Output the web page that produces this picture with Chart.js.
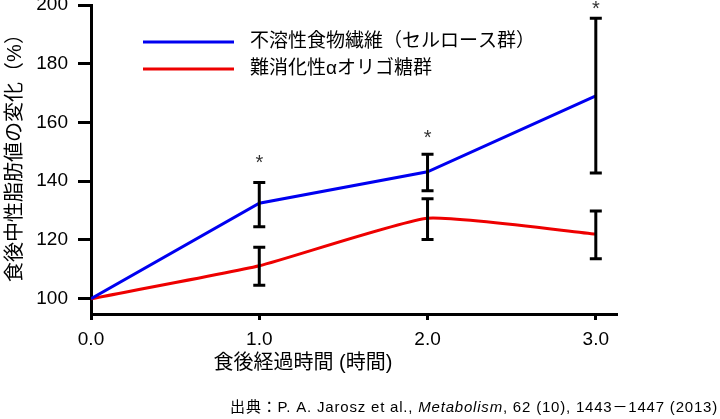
<!DOCTYPE html>
<html>
<head>
<meta charset="utf-8">
<script src="https://cdn.jsdelivr.net/npm/chart.js@4"></script>
<style>
  html, body { margin: 0; padding: 0; background: #fff; }
  #wrap { width: 720px; height: 419px; position: relative; }
</style>
</head>
<body>
<div id="wrap"><canvas id="c" width="720" height="419"></canvas></div>
<script>
// hours after meal
const hours = [0, 1, 2, 3];

// 不溶性食物繊維（セルロース群）
const celluloseMean = [100, 132.5, 143.2, 169.1];
const celluloseHigh = [null, 139.6, 149.2, 195.5];
const celluloseLow  = [null, 124.5, 136.8, 142.8];

// 難消化性αオリゴ糖群
const oligoMean = [100, 111.2, 127.4, 122.0];
const oligoHigh = [null, 117.5, 134.0, 129.9];
const oligoLow  = [null, 104.6, 120.2, 113.6];

// significance marks (over the cellulose series)
const starHours = [1, 2, 3];
const starAt = [147, 155.5, 199.5];

const seriesNames = ['不溶性食物繊維（セルロース群）', '難消化性αオリゴ糖群'];
const yTicks = [100, 120, 140, 160, 180, 200];

const FONT = "'Liberation Sans', Arial, 'Noto Sans CJK JP', sans-serif";
const BLUE = '#0000f0';
const RED = '#ee0000';

function pts(ys) {
  return hours.map((h, i) => ({ x: h, y: ys[i] }));
}

const extras = {
  id: 'extras',
  afterDatasetsDraw(chart) {
    const ctx = chart.ctx;
    const xs = chart.scales.x, ys = chart.scales.y;
    ctx.save();
    // error bars
    ctx.strokeStyle = '#000';
    ctx.lineWidth = 3;
    ctx.lineCap = 'butt';
    const bars = (hi, lo) => {
      hours.forEach((h, i) => {
        if (hi[i] == null) return;
        const px = xs.getPixelForValue(h);
        const top = ys.getPixelForValue(hi[i]);
        const bot = ys.getPixelForValue(lo[i]);
        ctx.beginPath();
        ctx.moveTo(px, top); ctx.lineTo(px, bot);
        ctx.moveTo(px - 6, top); ctx.lineTo(px + 6, top);
        ctx.moveTo(px - 6, bot); ctx.lineTo(px + 6, bot);
        ctx.stroke();
      });
    };
    bars(celluloseHigh, celluloseLow);
    bars(oligoHigh, oligoLow);

    // asterisks
    ctx.fillStyle = '#333';
    ctx.font = '20px ' + FONT;
    ctx.textAlign = 'center';
    ctx.textBaseline = 'middle';
    starHours.forEach((h, i) => {
      ctx.fillText('*', xs.getPixelForValue(h), ys.getPixelForValue(starAt[i]) + 3);
    });

    // legend
    ctx.lineWidth = 3;
    [BLUE, RED].forEach((col, i) => {
      const y = 42 + i * 27;
      ctx.strokeStyle = col;
      ctx.beginPath();
      ctx.moveTo(143, y); ctx.lineTo(234, y);
      ctx.stroke();
      ctx.fillStyle = '#000';
      ctx.font = '19px ' + FONT;
      ctx.textAlign = 'left';
      ctx.fillText(seriesNames[i], 250, y);
    });

    // axis titles
    ctx.fillStyle = '#000';
    ctx.font = '20px ' + FONT;
    ctx.textAlign = 'center';
    ctx.fillText('食後経過時間 (時間)', 303, 363);
    ctx.save();
    ctx.translate(15, 153);
    ctx.rotate(-Math.PI / 2);
    ctx.fillText('食後中性脂肪値の変化（%）', 0, 0);
    ctx.restore();

    // source line
    ctx.font = '15px ' + FONT;
    ctx.letterSpacing = '0.8px';
    ctx.textAlign = 'right';
    const tail = ', 62 (10), 1443－1447 (2013)';
    let x = 718;
    ctx.fillText(tail, x, 408);
    x -= ctx.measureText(tail).width;
    ctx.font = 'italic 15px ' + FONT;
    ctx.fillText('Metabolism', x, 408);
    x -= ctx.measureText('Metabolism').width;
    ctx.font = '15px ' + FONT;
    ctx.fillText('出典：P. A. Jarosz et al., ', x, 408);
    ctx.restore();
  }
};

new Chart(document.getElementById('c'), {
  type: 'line',
  data: {
    datasets: [
      { label: seriesNames[0], data: pts(celluloseMean), borderColor: BLUE, borderWidth: 3, pointRadius: 0, tension: 0 },
      { label: seriesNames[1], data: pts(oligoMean), borderColor: RED, borderWidth: 3, pointRadius: 0, tension: 0.15 }
    ]
  },
  options: {
    responsive: false,
    animation: false,
    events: [],
    layout: { padding: { left: 0, top: 5, right: 104, bottom: 63 } },
    plugins: { legend: { display: false }, tooltip: { enabled: false } },
    scales: {
      x: {
        type: 'linear',
        min: 0, max: 3.12,
        afterFit(s) { s.height = 42; s.paddingLeft = 0; s.paddingRight = 0; },
        border: { display: true, color: '#000', width: 3 },
        grid: { drawOnChartArea: false, color: '#000', tickColor: '#000', tickLength: 6, lineWidth: 3 },
        ticks: {
          stepSize: 1, includeBounds: false, color: '#000', padding: 8,
          font: { family: FONT, size: 19 },
          callback: v => v.toFixed(1)
        }
      },
      y: {
        min: 94.8, max: 200,
        afterFit(s) { s.width = 91; s.paddingTop = 0; s.paddingBottom = 0; },
        afterBuildTicks(s) { s.ticks = yTicks.map(v => ({ value: v })); },
        border: { display: true, color: '#000', width: 3 },
        grid: { drawOnChartArea: false, color: '#000', tickColor: '#000', tickLength: 13, lineWidth: 3 },
        ticks: { color: '#000', padding: 10, font: { family: FONT, size: 19 } }
      }
    }
  },
  plugins: [extras]
});
</script>
</body>
</html>
